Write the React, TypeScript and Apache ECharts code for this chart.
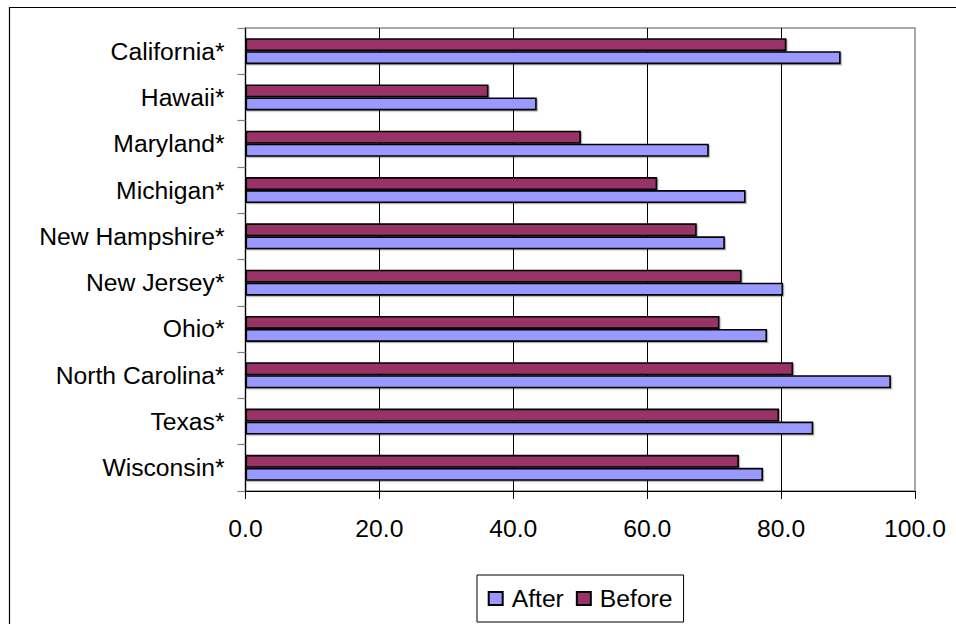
import React, { useEffect, useRef } from "react";
import * as echarts from "echarts";

// States, top to bottom
const states = [
  "California*",
  "Hawaii*",
  "Maryland*",
  "Michigan*",
  "New Hampshire*",
  "New Jersey*",
  "Ohio*",
  "North Carolina*",
  "Texas*",
  "Wisconsin*",
];

const beforeValues = [80.8, 36.3, 50.1, 61.5, 67.4, 74.1, 70.8, 81.8, 79.7, 73.7];
const afterValues = [88.9, 43.5, 69.2, 74.7, 71.6, 80.3, 77.9, 96.4, 84.8, 77.3];

const axisMin = 0;
const axisMax = 100;
const axisStep = 20;

const FONT = "'Liberation Sans', Arial, Helvetica, sans-serif";
const FS = 24.7;

export default function App() {
  const ref = useRef<HTMLDivElement>(null);

  useEffect(() => {
    if (!ref.current) return;
    const chart = echarts.init(ref.current, null, { renderer: "svg" });

    const barStyle = (color: string) => ({
      color,
      borderColor: "#000",
      borderWidth: 1.6,
      shadowColor: "rgba(0,0,0,0.3)",
      shadowOffsetX: 1.2,
      shadowOffsetY: 1.2,
      shadowBlur: 0,
    });

    chart.setOption({
      animation: false,
      backgroundColor: "#fff",
      textStyle: { fontFamily: FONT, color: "#000" },
      graphic: [
        {
          type: "rect",
          shape: { x: 9.5, y: 7.5, width: 1000, height: 1000 },
          style: { fill: "none", stroke: "#000", lineWidth: 1.2 },
          silent: true,
        },
      ],
      legend: {
        left: 477,
        top: 575,
        orient: "horizontal",
        data: ["After", "Before"],
        icon: "rect",
        itemWidth: 14,
        itemHeight: 13,
        itemGap: 12,
        padding: [11, 11, 11, 10.7],
        borderColor: "#000",
        borderWidth: 1,
        formatter: (name: string) => `{t|${name}}`,
        textStyle: {
          fontFamily: FONT,
          fontSize: FS,
          color: "#000",
          rich: {
            t: { fontFamily: FONT, fontSize: FS, color: "#000", padding: [0, 0, 0, 4] },
          },
        },
      },
      grid: {
        left: 245.5,
        top: 28,
        width: 669.5,
        height: 463,
        show: true,
        borderColor: "#8c8c8c",
        borderWidth: 1.5,
        backgroundColor: "transparent",
      },
      xAxis: {
        type: "value",
        min: axisMin,
        max: axisMax,
        interval: axisStep,
        axisLine: { show: true, lineStyle: { color: "#000", width: 1.2 } },
        axisTick: { show: true, length: 8, lineStyle: { color: "#000", width: 1 } },
        axisLabel: {
          margin: 25,
          fontFamily: FONT,
          fontSize: FS,
          color: "#000",
          formatter: (v: number) => v.toFixed(1),
        },
        splitLine: {
          show: true,
          showMinLine: false,
          showMaxLine: false,
          lineStyle: { color: "#000", width: 1 },
        },
      },
      yAxis: {
        type: "category",
        data: states,
        inverse: true,
        axisLine: { show: true, lineStyle: { color: "#000", width: 1.2 } },
        axisTick: { show: true, length: 8, lineStyle: { color: "#808080", width: 1.2 } },
        axisLabel: {
          margin: 21,
          fontFamily: FONT,
          fontSize: FS,
          color: "#000",
        },
        splitLine: { show: false },
      },
      series: [
        {
          name: "Before",
          type: "bar",
          data: beforeValues,
          barWidth: 13,
          barGap: "0%",
          itemStyle: barStyle("#993366"),
        },
        {
          name: "After",
          type: "bar",
          data: afterValues,
          barWidth: 13,
          barGap: "0%",
          itemStyle: barStyle("#9999ff"),
        },
      ],
    });

    return () => chart.dispose();
  }, []);

  return (
    <div
      ref={ref}
      style={{ position: "fixed", left: 0, top: 0, width: 956, height: 624 }}
    />
  );
}
